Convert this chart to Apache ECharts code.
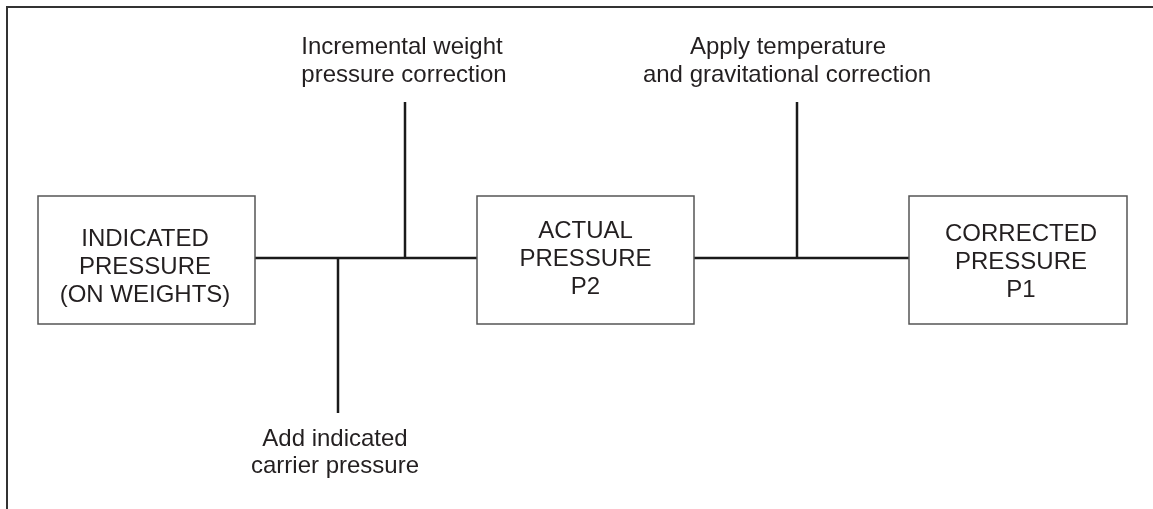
<!DOCTYPE html>
<html>
<head>
<meta charset="utf-8">
<script src="https://cdn.jsdelivr.net/npm/echarts@6/dist/echarts.min.js"></script>
<style>html,body{margin:0;padding:0;background:#fff;}#c{width:1153px;height:509px;}</style>
</head>
<body>
<div id="c"></div>
<script>
// Diagram content (diagram units = canvas space 0..1153 x 0..509)
const boxLabels = ['INDICATED\nPRESSURE\n(ON WEIGHTS)', 'ACTUAL\nPRESSURE\nP2', 'CORRECTED\nPRESSURE\nP1'];
const boxLeft = [38, 477, 909];
const boxRight = [255, 694, 1127];
const boxTop = [196, 196, 196];
const boxBottom = [324, 324, 324];
const boxTextX = [145, 585.5, 1021];
const boxTextY = [267, 259, 262];

// connector segments: [x1, y1, x2, y2]
const connectors = [
  [255, 258, 477, 258],
  [694, 258, 909, 258],
  [405, 258, 405, 102],
  [338, 258, 338, 413],
  [797, 258, 797, 102]
];

const noteLines = ['Incremental weight', 'pressure correction', 'Apply temperature', 'and gravitational correction', 'Add indicated', 'carrier pressure'];
const noteX = [402, 404, 788, 787, 335, 335];
const noteY = [47, 75, 47, 75, 439, 466];

const FONT = "'Liberation Sans', Arial, Helvetica, sans-serif";
const TEXT_COLOR = '#231f20';

const chart = echarts.init(document.getElementById('c'), null, {renderer: 'canvas'});

const boxData = boxLabels.map((l, i) => [boxLeft[i], boxTop[i], boxRight[i], boxBottom[i], boxTextX[i], boxTextY[i], l]);
const noteData = noteLines.map((t, i) => [noteX[i], noteY[i], t]);

chart.setOption({
  animation: false,
  backgroundColor: '#ffffff',
  grid: {left: 0, right: 0, top: 0, bottom: 0},
  xAxis: {type: 'value', min: 0, max: 1153, show: false},
  yAxis: {type: 'value', min: 0, max: 509, inverse: true, show: false},
  series: [
    {
      // frame (top and left edges)
      type: 'custom',
      data: [[7, 7, 1153, 509]],
      renderItem: function (params, api) {
        const a = api.coord([api.value(0), api.value(1)]);
        const b = api.coord([api.value(2), api.value(3)]);
        return {
          type: 'polyline',
          shape: {points: [[a[0], b[1]], [a[0], a[1]], [b[0], a[1]]]},
          style: {stroke: '#333333', lineWidth: 2, fill: null}
        };
      },
      silent: true
    },
    {
      type: 'custom',
      data: connectors,
      renderItem: function (params, api) {
        const a = api.coord([api.value(0), api.value(1)]);
        const b = api.coord([api.value(2), api.value(3)]);
        return {
          type: 'line',
          shape: {x1: a[0], y1: a[1], x2: b[0], y2: b[1]},
          style: {stroke: '#1a1a1a', lineWidth: 2.5}
        };
      },
      silent: true
    },
    {
      type: 'custom',
      data: boxData,
      renderItem: function (params, api) {
        const d = boxData[params.dataIndex];
        const a = api.coord([d[0], d[1]]);
        const b = api.coord([d[2], d[3]]);
        const t = api.coord([d[4], d[5]]);
        return {
          type: 'group',
          children: [
            {
              type: 'rect',
              shape: {x: a[0], y: a[1], width: b[0] - a[0], height: b[1] - a[1]},
              style: {fill: '#ffffff', stroke: '#555555', lineWidth: 1.5}
            },
            {
              type: 'text',
              x: t[0], y: t[1],
              style: {
                text: d[6], fill: TEXT_COLOR, font: '24px ' + FONT,
                align: 'center', verticalAlign: 'middle', lineHeight: 28
              }
            }
          ]
        };
      },
      silent: true
    },
    {
      type: 'custom',
      data: noteData,
      renderItem: function (params, api) {
        const d = noteData[params.dataIndex];
        const p = api.coord([d[0], d[1]]);
        return {
          type: 'text',
          x: p[0], y: p[1],
          style: {
            text: d[2], fill: TEXT_COLOR, font: '24px ' + FONT,
            align: 'center', verticalAlign: 'middle'
          }
        };
      },
      silent: true
    }
  ]
});
</script>
</body>
</html>
